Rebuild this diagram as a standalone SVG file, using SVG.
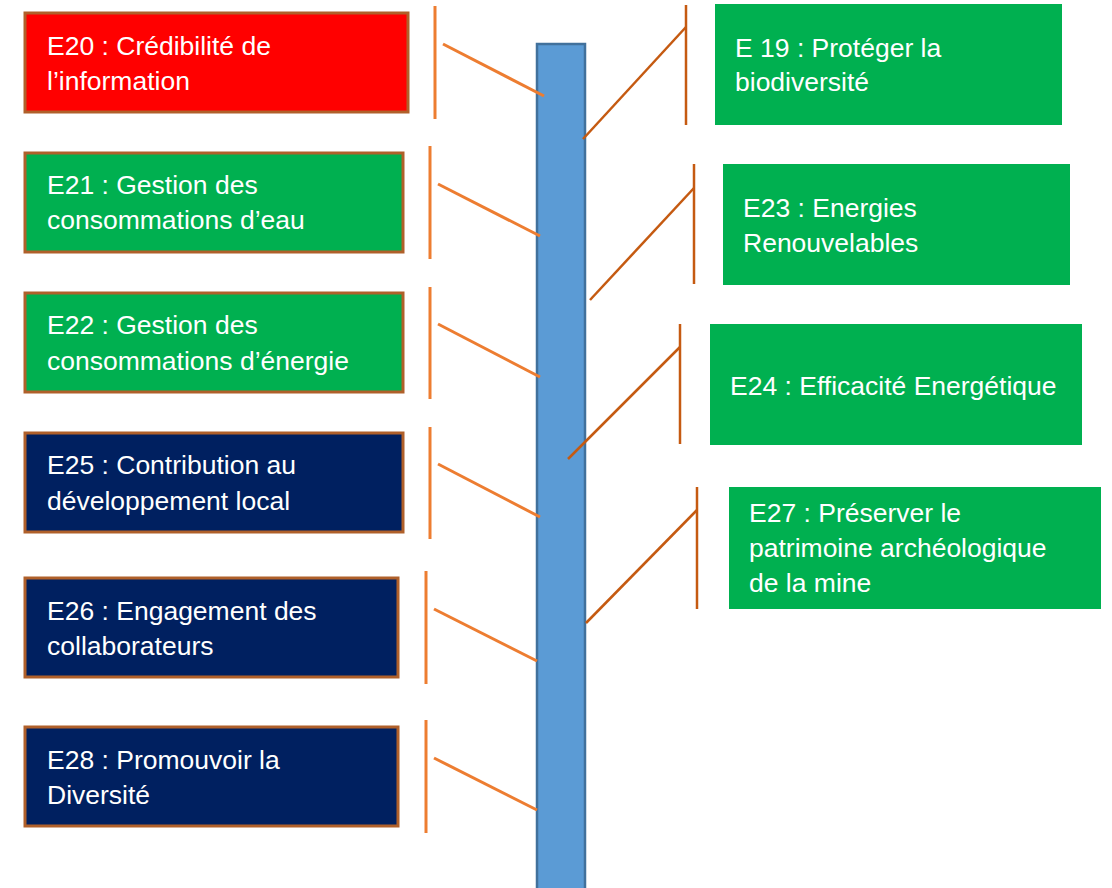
<svg xmlns="http://www.w3.org/2000/svg" width="1112" height="888" viewBox="0 0 1112 888">
<style>
.box{stroke:#B0602A;stroke-width:3}
.red{fill:#FF0000}
.green{fill:#00B050}
.navy{fill:#002060}
.plain{stroke:none}
.t{font-family:"Liberation Sans",Arial,sans-serif;font-size:26.5px;fill:#FFFFFF}
.lc{stroke:#ED7D31;stroke-width:3;fill:none}
.rc{stroke:#C55A11;stroke-width:2.5;fill:none}
</style>
<rect id="bar" x="537" y="44" width="48" height="850" fill="#5B9BD5" stroke="#41719C" stroke-width="2.5"/>
<g id="connectors">
<line class="lc" x1="435" y1="6" x2="435" y2="119"/>
<line class="lc" x1="443" y1="44" x2="544" y2="96"/>
<line class="lc" x1="430" y1="146" x2="430" y2="259"/>
<line class="lc" x1="438" y1="184" x2="540" y2="236"/>
<line class="lc" x1="430" y1="287" x2="430" y2="399"/>
<line class="lc" x1="438" y1="324" x2="540" y2="377"/>
<line class="lc" x1="430" y1="427" x2="430" y2="539"/>
<line class="lc" x1="438" y1="464" x2="540" y2="517"/>
<line class="lc" x1="426" y1="571" x2="426" y2="684"/>
<line class="lc" x1="434" y1="609" x2="537" y2="661"/>
<line class="lc" x1="426" y1="720" x2="426" y2="833"/>
<line class="lc" x1="434" y1="758" x2="537" y2="810"/>
<line class="rc" x1="686" y1="5" x2="686" y2="125"/>
<line class="rc" x1="583" y1="139" x2="686" y2="27"/>
<line class="rc" x1="694" y1="164" x2="694" y2="284"/>
<line class="rc" x1="590" y1="300" x2="694" y2="188"/>
<line class="rc" x1="680" y1="324" x2="680" y2="444"/>
<line class="rc" x1="568" y1="459" x2="680" y2="347"/>
<line class="rc" x1="697" y1="487" x2="697" y2="609"/>
<line class="rc" x1="586" y1="623" x2="697" y2="510"/>
</g>
<g id="E20"><rect class="box red" x="25" y="13" width="383" height="99"/><text class="t" x="47" y="55">E20 : Crédibilité de</text><text class="t" x="47" y="90">l’information</text></g>
<g id="E21"><rect class="box green" x="25" y="153" width="378" height="99"/><text class="t" x="47" y="194">E21 : Gestion des</text><text class="t" x="47" y="229">consommations d’eau</text></g>
<g id="E22"><rect class="box green" x="25" y="293" width="378" height="99"/><text class="t" x="47" y="334">E22 : Gestion des</text><text class="t" x="47" y="370">consommations d’énergie</text></g>
<g id="E25"><rect class="box navy" x="25" y="433" width="378" height="99"/><text class="t" x="47" y="474">E25 : Contribution au</text><text class="t" x="47" y="510">développement local</text></g>
<g id="E26"><rect class="box navy" x="25" y="578" width="373" height="99"/><text class="t" x="47" y="620">E26 : Engagement des</text><text class="t" x="47" y="655">collaborateurs</text></g>
<g id="E28"><rect class="box navy" x="25" y="727" width="373" height="99"/><text class="t" x="47" y="769">E28 : Promouvoir la</text><text class="t" x="47" y="804">Diversité</text></g>
<g id="E19"><rect class="green plain" x="715" y="4" width="347" height="121"/><text class="t" x="735" y="57">E 19 : Protéger la</text><text class="t" x="735" y="91">biodiversité</text></g>
<g id="E23"><rect class="green plain" x="723" y="164" width="347" height="121"/><text class="t" x="743" y="217">E23 : Energies</text><text class="t" x="743" y="252">Renouvelables</text></g>
<g id="E24"><rect class="green plain" x="710" y="324" width="372" height="121"/><text class="t" x="730" y="395">E24 : Efficacité Energétique</text></g>
<g id="E27"><rect class="green plain" x="729" y="487" width="372" height="122"/><text class="t" x="749" y="522">E27 : Préserver le</text><text class="t" x="749" y="557">patrimoine archéologique</text><text class="t" x="749" y="592">de la mine</text></g>
</svg>
